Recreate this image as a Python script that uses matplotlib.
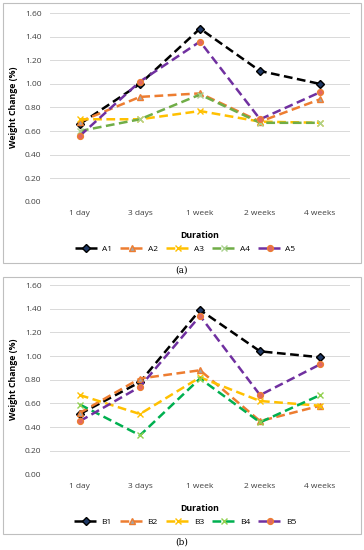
import matplotlib
matplotlib.use('Agg')
import matplotlib.pyplot as plt
from matplotlib.patches import Rectangle

plt.rcParams["font.family"] = ["Open Sans", "DejaVu Sans"]

durations = ["1 day", "3 days", "1 week", "2 weeks", "4 weeks"]

# panel (a)
A1 = [0.66, 1.00, 1.47, 1.11, 1.00]
A2 = [0.68, 0.89, 0.92, 0.68, 0.87]
A3 = [0.70, 0.70, 0.77, 0.68, 0.67]
A4 = [0.60, 0.70, 0.91, 0.67, 0.67]
A5 = [0.56, 1.02, 1.36, 0.70, 0.93]

# panel (b)
B1 = [0.51, 0.78, 1.39, 1.04, 0.99]
B2 = [0.52, 0.81, 0.88, 0.45, 0.58]
B3 = [0.67, 0.51, 0.82, 0.62, 0.58]
B4 = [0.59, 0.33, 0.81, 0.44, 0.67]
B5 = [0.45, 0.74, 1.34, 0.67, 0.93]

yticks = [0.0, 0.2, 0.4, 0.6, 0.8, 1.0, 1.2, 1.4, 1.6]

# (colour, marker, marker face, marker edge)
styles_a = [("black", "D", "#1F3864", "black"),
            ("#ED7D31", "^", "#A5A5A5", "#ED7D31"),
            ("#FFC000", "x", "#FFC000", "#FFC000"),
            ("#70AD47", "x", "#70AD47", "#A9D18E"),
            ("#7030A0", "o", "#E06666", "#ED7D31")]
styles_b = [("black", "D", "#1F3864", "black"),
            ("#ED7D31", "^", "#A5A5A5", "#ED7D31"),
            ("#FFC000", "x", "#FFC000", "#FFC000"),
            ("#00B050", "x", "#00B050", "#92D050"),
            ("#7030A0", "o", "#E06666", "#ED7D31")]

fig = plt.figure(figsize=(3.64, 5.5), dpi=100)

# panel frames
for y0, h in [(0.522, 0.472), (0.029, 0.467)]:
    fig.patches.append(Rectangle((0.008, y0), 0.984, h, transform=fig.transFigure,
                                 fill=False, edgecolor="#BFBFBF", linewidth=0.8))


def draw_panel(rect, series, names, styles, tag, tag_y):
    ax = fig.add_axes(rect)
    x = range(len(durations))
    for vals, name, (c, m, mfc, mec) in zip(series, names, styles):
        ax.plot(x, vals, linestyle=(0, (3.5, 1.8)), color=c, linewidth=1.8,
                marker=m, markersize=4.2, markerfacecolor=mfc,
                markeredgecolor=mec, markeredgewidth=1.0, label=name)
    ax.set_xlim(-0.5, len(durations) - 0.5)
    ax.set_ylim(0, 1.6)
    ax.set_yticks(yticks)
    ax.set_yticklabels([f"{v:.2f}" for v in yticks], fontsize=6, color="#404040")
    ax.set_xticks(list(x))
    ax.set_xticklabels(durations, fontsize=6, color="#404040")
    ax.tick_params(length=0, pad=6)
    ax.grid(axis="y", color="#D9D9D9", linewidth=0.7)
    ax.set_axisbelow(True)
    for s in ax.spines.values():
        s.set_visible(False)
    ax.set_ylabel("Weight Change (%)", fontsize=6.3, fontweight="bold", labelpad=5)
    ax.set_xlabel("Duration", fontsize=6.3, fontweight="bold", labelpad=10)
    ax.legend(loc="upper center", bbox_to_anchor=(0.45, -0.215), ncol=5, frameon=False,
              fontsize=6, handlelength=2.8, columnspacing=1.0, handletextpad=0.5,
              borderaxespad=0)
    fig.text(0.5, tag_y, tag, ha="center", va="center", fontsize=6.5, family="DejaVu Serif")
    return ax


draw_panel([0.137, 0.6333, 0.825, 0.3425], [A1, A2, A3, A4, A5],
           ["A1", "A2", "A3", "A4", "A5"], styles_a, "(a)", 1 - 270 / 550)
draw_panel([0.137, 0.1376, 0.825, 0.344], [B1, B2, B3, B4, B5],
           ["B1", "B2", "B3", "B4", "B5"], styles_b, "(b)", 1 - 542 / 550)

fig.savefig("out.png", dpi=100)
